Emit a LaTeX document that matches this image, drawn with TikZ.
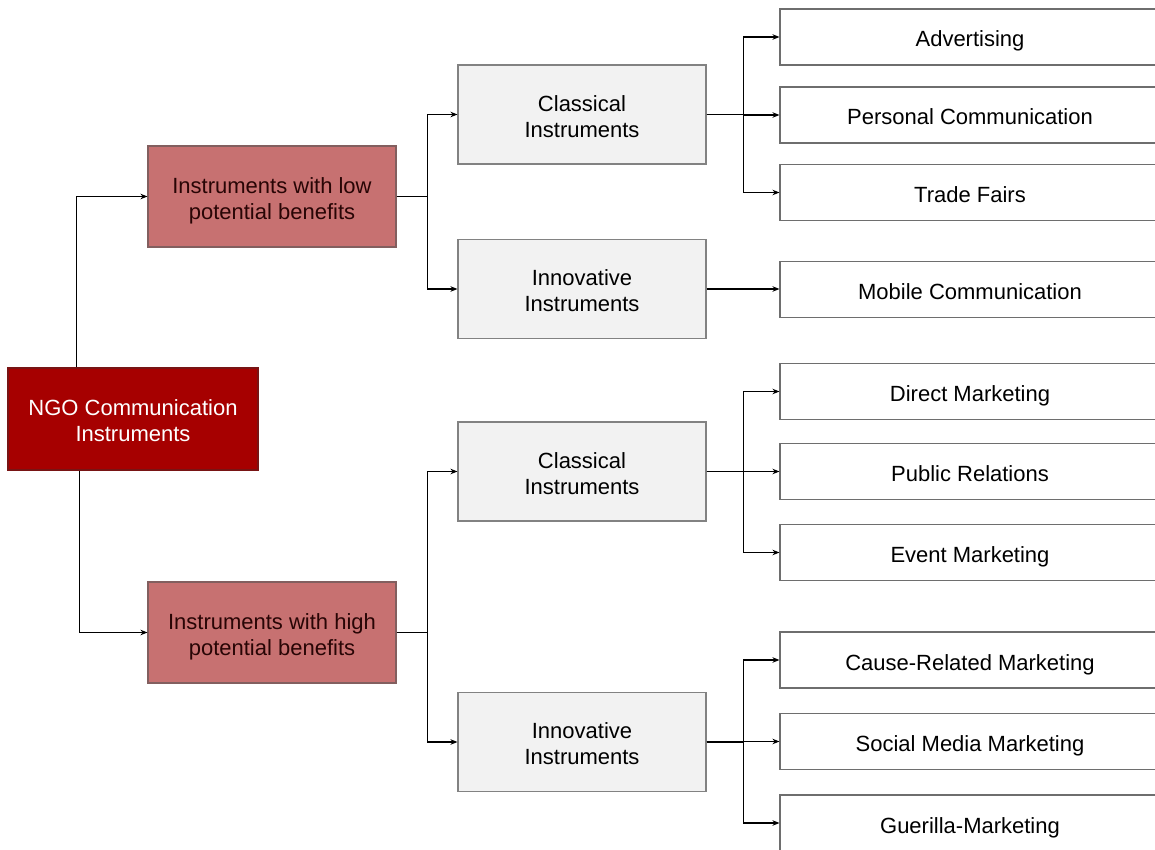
\documentclass[tikz,border=0pt]{standalone}
\usepackage{fontspec}
\setmainfont{Liberation Sans}
\usetikzlibrary{arrows.meta}
\definecolor{rootred}{RGB}{166,0,0}
\definecolor{rootedge}{RGB}{120,20,20}
\definecolor{midred}{RGB}{199,113,113}
\definecolor{midedge}{RGB}{130,95,95}
\definecolor{midtext}{RGB}{40,5,5}
\definecolor{boxgray}{RGB}{242,242,242}
\definecolor{boxedge}{RGB}{130,130,130}
\definecolor{leafedge}{RGB}{110,110,110}
% two-line label, set a little lower inside its box
\newcommand\twolines[2]{\raisebox{-4.5pt}[\height][\depth]{\begin{tabular}{@{}c@{}}#1\\#2\end{tabular}}}
\tikzset{
  base/.style={draw, line width=1.1pt, align=center, inner sep=0pt,
    font=\fontsize{22}{26}\selectfont},
  rootbox/.style={base, fill=rootred, draw=rootedge, text=white,
    minimum width=250pt, minimum height=102pt},
  groupbox/.style={base, fill=midred, draw=midedge, text=midtext,
    minimum width=248pt, minimum height=101pt},
  kindbox/.style={base, fill=boxgray, draw=boxedge, text=black,
    minimum width=248pt, minimum height=99pt},
  leafbox/.style={base, fill=white, draw=leafedge, text=black,
    minimum width=380pt, minimum height=56pt,
    text height=21pt, text depth=1pt},
  link/.style={line width=1.2pt, draw=black,
    -{Stealth[length=7pt,width=5.5pt]}},
}
\begin{document}
\begin{tikzpicture}[x=1pt,y=-1pt]
\useasboundingbox (0,0) rectangle (1155,850);
\clip (0,0) rectangle (1155,850);

% level 0
\node[rootbox] (root) at (133,419) {\twolines{NGO Communication}{Instruments}};

% level 1
\node[groupbox] (low)  at (272,196.5) {\twolines{Instruments with low}{potential benefits}};
\node[groupbox] (high) at (272,632.5) {\twolines{Instruments with high}{potential benefits}};

% level 2
\node[kindbox] (cl1) at (582,114.5) {\twolines{Classical}{Instruments}};
\node[kindbox] (in1) at (582,289)   {\twolines{Innovative}{Instruments}};
\node[kindbox] (cl2) at (582,471.5) {\twolines{Classical}{Instruments}};
\node[kindbox] (in2) at (582,742)   {\twolines{Innovative}{Instruments}};

% level 3
\node[leafbox] (adv) at (970,37)    {Advertising};
\node[leafbox] (per) at (970,115)   {Personal Communication};
\node[leafbox] (tra) at (970,192.5) {Trade Fairs};
\node[leafbox] (mob) at (970,289.5) {Mobile Communication};
\node[leafbox] (dir) at (970,391.5) {Direct Marketing};
\node[leafbox] (pub) at (970,471.5) {Public Relations};
\node[leafbox] (evt) at (970,552.5) {Event Marketing};
\node[leafbox] (cau) at (970,660)   {Cause-Related Marketing};
\node[leafbox] (soc) at (970,741.5) {Social Media Marketing};
\node[leafbox] (gue) at (970,823)   {Guerilla-Marketing};

% root to groups
\draw[link] ([xshift=69pt]root.north west) |- (low.west);
\draw[link] ([xshift=72pt]root.south west) |- (high.west);

% groups to kinds
\draw[link] (low.east) -- ++(31,0) |- (cl1.west);
\draw[link] (low.east) -- ++(31,0) |- (in1.west);
\draw[link] (high.east) -- ++(31,0) |- (cl2.west);
\draw[link] (high.east) -- ++(31,0) |- (in2.west);

% kinds to instruments
\draw[link] (cl1.east) -- ++(37,0) |- (adv.west);
\draw[link] (cl1.east) -- ++(37,0) |- (per.west);
\draw[link] (cl1.east) -- ++(37,0) |- (tra.west);
\draw[link] (in1.east) -- (in1.east -| mob.west);
\draw[link] (cl2.east) -- ++(37,0) |- (dir.west);
\draw[link] (cl2.east) -- ++(37,0) |- (pub.west);
\draw[link] (cl2.east) -- ++(37,0) |- (evt.west);
\draw[link] (in2.east) -- ++(37,0) |- (cau.west);
\draw[link] (in2.east) -- ++(37,0) |- (soc.west);
\draw[link] (in2.east) -- ++(37,0) |- (gue.west);
\end{tikzpicture}
\end{document}
